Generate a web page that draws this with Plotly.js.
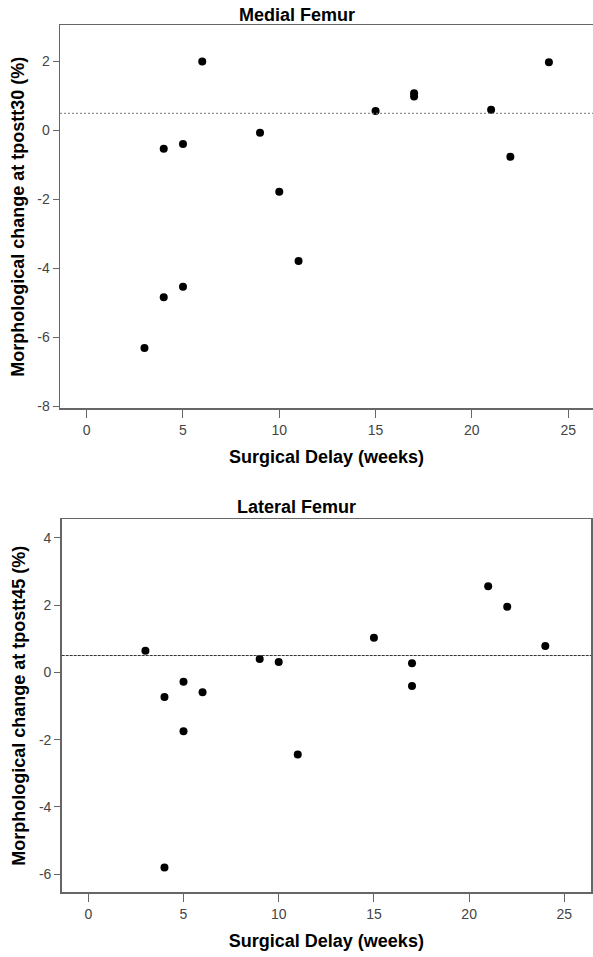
<!DOCTYPE html>
<html>
<head>
<meta charset="utf-8">
<script src="https://cdn.plot.ly/plotly-3.0.1.min.js"></script>
<style>html,body{margin:0;padding:0;background:#fff;}#chart{width:593px;height:957px;}</style>
</head>
<body>
<div id="chart"></div>
<script>
// Surgical delay (weeks) for each patient
var delayWeeks = [3, 4, 4, 5, 5, 6, 9, 10, 11, 15, 17, 17, 21, 22, 24];
// Medial femur: morphological change at tpostt30 (%)
var medialChange = [-6.30, -4.83, -0.53, -4.53, -0.39, 2.00, -0.06, -1.77, -3.78, 0.57, 1.08, 0.99, 0.60, -0.76, 1.98];
// Lateral femur: morphological change at tpostt45 (%)
var lateralChange = [0.64, -0.73, -5.80, -0.28, -1.75, -0.59, 0.40, 0.31, -2.44, 1.03, 0.27, -0.41, 2.56, 1.95, 0.78];
// Reference level (dotted line)
var referenceLevel = 0.5;
// Tick values / labels
var xTickVals = [0, 5, 10, 15, 20, 25];
var xTickText = ['0', '5', '10', '15', '20', '25'];
var medialTickVals = [-8, -6, -4, -2, 0, 2];
var medialTickText = ['-8', '-6', '-4', '-2', '0', '2'];
var lateralTickVals = [-6, -4, -2, 0, 2, 4];
var lateralTickText = ['-6', '-4', '-2', '0', '2', '4'];

var W = 593, H = 957;
var FONT = 'Liberation Sans, Arial, sans-serif';
var tickFont = {family: FONT, size: 14, color: '#444'};
var titleFont = {family: FONT, size: 18, color: '#000', weight: 'bold'};
var frameColor = '#666';

var marker = {color: '#000', size: 8, symbol: 'circle'};
var traces = [
  {x: delayWeeks, y: medialChange, type: 'scatter', mode: 'markers', marker: marker, xaxis: 'x', yaxis: 'y', hoverinfo: 'x+y'},
  {x: delayWeeks, y: lateralChange, type: 'scatter', mode: 'markers', marker: marker, xaxis: 'x2', yaxis: 'y2', hoverinfo: 'x+y'}
];

function xAxis(domain, range, anchor) {
  return {
    domain: domain, range: range, anchor: anchor,
    tickmode: 'array', tickvals: xTickVals, ticktext: xTickText,
    ticks: 'outside', ticklen: 8, tickwidth: 1, tickcolor: frameColor,
    tickfont: tickFont, showgrid: false, zeroline: false,
    showline: true, linecolor: frameColor, linewidth: 1.5, mirror: true,
    title: {text: 'Surgical Delay (weeks)', font: titleFont, standoff: 14}
  };
}
function yAxis(domain, range, anchor, vals, text, title, mirror) {
  return {
    domain: domain, range: range, anchor: anchor,
    tickmode: 'array', tickvals: vals, ticktext: text,
    ticks: 'outside', ticklen: 6, tickwidth: 1, tickcolor: frameColor,
    tickfont: tickFont, showgrid: false, zeroline: false,
    showline: true, linecolor: frameColor, linewidth: 1.5, mirror: mirror,
    title: {text: title, font: titleFont, standoff: 8}
  };
}

var layout = {
  width: W, height: H,
  margin: {l: 0, r: 0, t: 0, b: 0, pad: 0},
  paper_bgcolor: '#fff', plot_bgcolor: '#fff',
  showlegend: false,
  xaxis: xAxis([60 / W, 1], [-1.386, 26.29], 'y'),
  yaxis: yAxis([1 - 408.3 / H, 1 - 25 / H], [-8.05, 3.06], 'x', medialTickVals, medialTickText, 'Morphological change at tpostt30 (%)', false),
  xaxis2: xAxis([61.7 / W, 591 / W], [-1.397, 26.40], 'y2'),
  yaxis2: yAxis([1 - 892.3 / H, 1 - 519.3 / H], [-6.54, 4.55], 'x2', lateralTickVals, lateralTickText, 'Morphological change at tpostt45 (%)', true),
  shapes: [
    {type: 'line', xref: 'x domain', yref: 'y', x0: 0, x1: 1, y0: referenceLevel, y1: referenceLevel,
     line: {color: '#777', width: 1, dash: '2px,2px'}},
    {type: 'line', xref: 'x2 domain', yref: 'y2', x0: 0, x1: 1, y0: referenceLevel, y1: referenceLevel,
     line: {color: '#333', width: 1, dash: '3px,1px'}}
  ],
  annotations: [
    {text: 'Medial Femur', xref: 'paper', yref: 'paper', x: 0.5, y: 1 - 15 / H, xanchor: 'center', yanchor: 'middle', showarrow: false, font: titleFont},
    {text: 'Lateral Femur', xref: 'paper', yref: 'paper', x: 0.5, y: 1 - 506.5 / H, xanchor: 'center', yanchor: 'middle', showarrow: false, font: titleFont}
  ]
};

Plotly.newPlot('chart', traces, layout, {displayModeBar: false, staticPlot: true});
</script>
</body>
</html>
